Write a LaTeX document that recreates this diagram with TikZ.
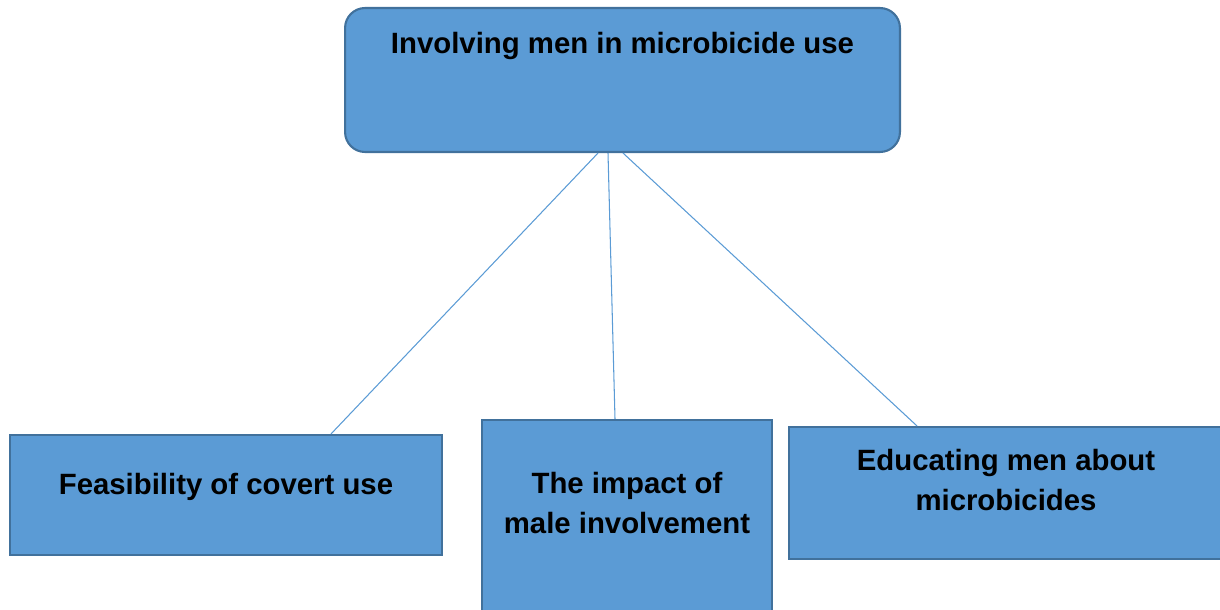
\documentclass[tikz,border=0pt]{standalone}
\usepackage{fontspec}
\setmainfont{Liberation Sans}
\definecolor{boxfill}{HTML}{5B9BD5}
\definecolor{boxline}{HTML}{41719C}
\begin{document}
\begin{tikzpicture}[x=0.02cm, y=-0.02cm, inner sep=0pt,
    box/.style={draw=boxline, line width=1.2pt, fill=boxfill,
      font=\fontsize{16.7}{22.8}\selectfont\bfseries, align=center},
    link/.style={draw=boxfill, line width=0.6pt}]
    \useasboundingbox (0,0) rectangle (1220,609);
    \clip (0,0) rectangle (1220,609);

    \node[box, rounded corners=0.4cm, minimum width=11.1cm,
      text height=0.9cm, text depth=1.98cm] (main) at (622.5,80)
      {Involving men in microbicide use};

    \node[box, minimum width=8.64cm, text height=1.18cm, text depth=1.22cm]
      (covert) at (226,495) {Feasibility of covert use};
    \node[box, minimum width=5.8cm, text height=1.46cm, text depth=2.64cm]
      (impact) at (627,522.5)
      {\begin{tabular}[t]{@{}c@{}}The impact of\\male involvement\end{tabular}};
    \node[box, minimum width=8.68cm, text height=0.86cm, text depth=1.78cm]
      (educate) at (1006,493)
      {\begin{tabular}[t]{@{}c@{}}Educating men about\\microbicides\end{tabular}};

    \draw[link] ([xshift=-0.49cm]main.south) -- ([xshift=2.1cm]covert.north);
    \draw[link] ([xshift=-0.29cm]main.south) -- ([xshift=-0.24cm]impact.north);
    \draw[link] ([xshift=0.01cm]main.south) -- ([xshift=-1.78cm]educate.north);
  \end{tikzpicture}
\end{document}
